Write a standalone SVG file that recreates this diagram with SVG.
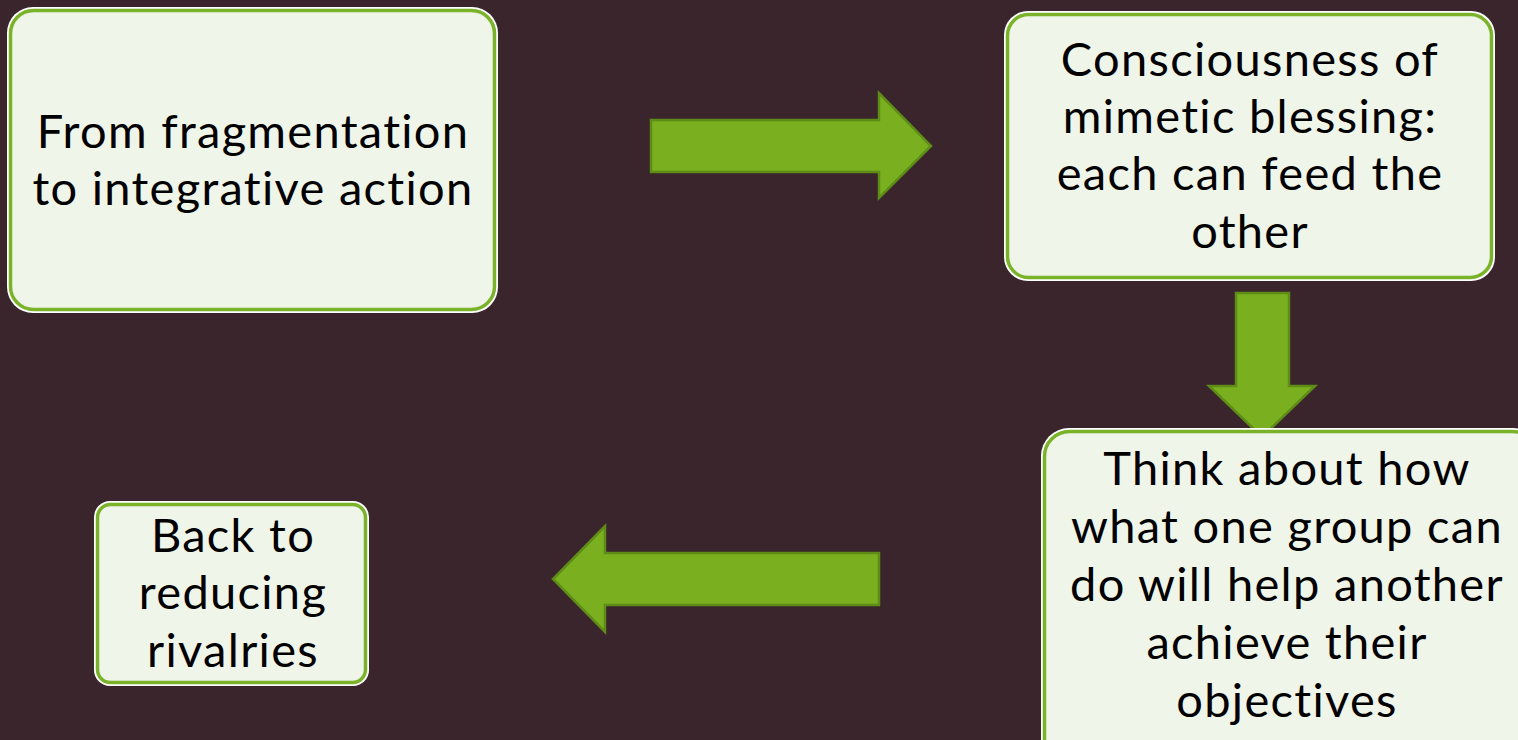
<svg xmlns="http://www.w3.org/2000/svg" width="1518" height="740" viewBox="0 0 1518 740">
<style>
.box-outer{fill:#ffffff}
.box{fill:#eff5e8;stroke:#7ab32a;stroke-width:3.5}
.arrow{fill:#7aaf20;stroke:#5e8c16;stroke-width:2.5;stroke-linejoin:miter}
text{font-family:Lato,"Liberation Sans",sans-serif;font-size:47px;fill:#000;text-anchor:middle;letter-spacing:1.3px;font-variant-ligatures:none}
</style>
<rect width="1518" height="740" fill="#3a252d"/>
<g id="connectors">
<polygon class="arrow" points="651,120 879,120 879,93 931,146 879,198 879,172 651,172"/>
<polygon class="arrow" points="1236,293 1289,293 1289,386 1315,386 1262,437 1209,386 1236,386"/>
<polygon class="arrow" points="879,553 605,553 605,526 553,579 605,632 605,605 879,605"/>
</g>
<g id="node1">
<rect class="box-outer" x="7" y="7" width="491" height="306" rx="26"/>
<rect class="box" x="10.5" y="10.5" width="484" height="299" rx="23"/>
<text x="253" y="148">From fragmentation</text>
<text x="253" y="205">to integrative action</text>
</g>
<g id="node2">
<rect class="box-outer" x="1004" y="11" width="491" height="270" rx="24"/>
<rect class="box" x="1007.5" y="14.5" width="484" height="263" rx="21"/>
<text x="1250" y="76">Consciousness of</text>
<text x="1250" y="133">mimetic blessing:</text>
<text x="1250" y="190">each can feed the</text>
<text x="1250" y="248">other</text>
</g>
<g id="node3">
<rect class="box-outer" x="1041" y="428" width="500" height="340" rx="28"/>
<rect class="box" x="1044.5" y="431.5" width="493" height="333" rx="25"/>
<text x="1287" y="485">Think about how</text>
<text x="1287" y="543">what one group can</text>
<text x="1287" y="601">do will help another</text>
<text x="1287" y="659">achieve their</text>
<text x="1287" y="717">objectives</text>
</g>
<g id="node4">
<rect class="box-outer" x="94" y="501" width="275" height="185" rx="16"/>
<rect class="box" x="97.5" y="504.5" width="268" height="178" rx="13"/>
<text x="233" y="552">Back to</text>
<text x="233" y="609">reducing</text>
<text x="233" y="667">rivalries</text>
</g>
</svg>
